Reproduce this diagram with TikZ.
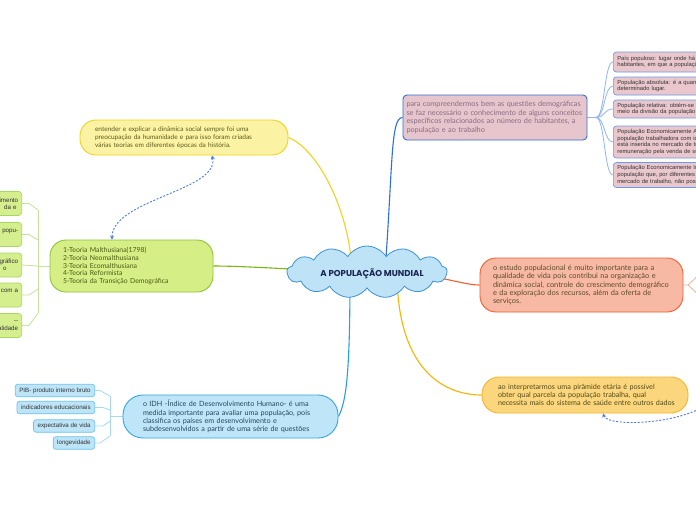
\documentclass[tikz,border=0pt]{standalone}
\usepackage{fontspec}
\setmainfont{Lato}
\newfontfamily\arialf{Liberation Sans}
\newfontfamily\titlef{Poppins}
\usetikzlibrary{shapes.symbols,arrows.meta}
\pgfdeclarelayer{back}
\pgfdeclarelayer{bg}
\pgfsetlayers{back,bg,main}
\definecolor{purpF}{HTML}{E7C5CC}\definecolor{purpB}{HTML}{2F6FD8}\definecolor{purpT}{HTML}{8A6C84}
\definecolor{pinkF}{HTML}{E9C7CD}\definecolor{pinkB}{HTML}{6D9BE6}\definecolor{pinkL}{HTML}{8FB5F0}
\definecolor{yF}{HTML}{FBF3A3}\definecolor{yB}{HTML}{EFD31C}\definecolor{yT}{HTML}{5B5A1E}
\definecolor{gF}{HTML}{D6EE86}\definecolor{gB}{HTML}{8DC43C}\definecolor{gT}{HTML}{4C5C12}\definecolor{gLine}{HTML}{7CB612}
\definecolor{glF}{HTML}{D5EE8E}\definecolor{glB}{HTML}{A9D766}\definecolor{glLine}{HTML}{C4E29A}
\definecolor{rF}{HTML}{F8B9A4}\definecolor{rB}{HTML}{F0602E}\definecolor{rT}{HTML}{5B4A2A}\definecolor{rLight}{HTML}{F6B09A}
\definecolor{oF}{HTML}{FCD67C}\definecolor{oB}{HTML}{F5B52A}\definecolor{oT}{HTML}{4F4A1C}\definecolor{oLine}{HTML}{F5B400}
\definecolor{bF}{HTML}{BEE5F8}\definecolor{bB}{HTML}{34A5DF}\definecolor{bT}{HTML}{25475F}\definecolor{bLine}{HTML}{2A9FE0}
\definecolor{blF}{HTML}{BDE4F7}\definecolor{blB}{HTML}{6BC3EC}\definecolor{blLine}{HTML}{A7D8F2}
\definecolor{cF}{HTML}{BEE2F6}\definecolor{cB}{HTML}{3C92D4}\definecolor{navy}{HTML}{1B2552}
\definecolor{dashC}{HTML}{4A7CE0}
\begin{document}
\begin{tikzpicture}[x=1pt,y=-1pt,
  mainbox/.style={draw, line width=0.9pt, align=left, inner ysep=2pt},
  pinkbox/.style={draw=pinkB, fill=pinkF, line width=0.7pt, rounded corners=3pt, anchor=west, align=left,
     text width=170pt, inner xsep=4pt, inner ysep=1pt, text=black!80, font=\arialf\fontsize{5.8}{6.6}\selectfont},
  gleft/.style={draw=glB, fill=glF, line width=0.7pt, rounded corners=3pt, anchor=east, align=right,
     text width=100pt, inner xsep=3.5pt, minimum height=24pt, text=black!80, font=\arialf\fontsize{6.2}{7.4}\selectfont},
  bleft/.style={draw=blB, fill=blF, line width=0.7pt, rounded corners=2.5pt, anchor=east,
     inner xsep=4pt, inner ysep=0pt, minimum height=12.5pt, text=black!80, font=\arialf\fontsize{6.2}{7}\selectfont},
  conn/.style={line width=1.1pt},
  thin/.style={line width=0.8pt},
  dashy/.style={draw=dashC, line width=0.9pt, dash pattern=on 2pt off 1.6pt}
]
\useasboundingbox (0,0) rectangle (696,520);
\clip (0,0) rectangle (696,520);
\begin{pgfonlayer}{back}
\fill[white] (0,0) rectangle (696,520);
\end{pgfonlayer}

% central cloud
\node[cloud, draw=cB, fill=cF, line width=0.8pt, cloud puffs=13, cloud puff arc=115, aspect=3.2,
      cloud ignores aspect, minimum width=160pt, minimum height=52pt, inner sep=0pt] (cl) at (367,272) {};
\node[font=\titlef\bfseries\fontsize{8.6}{10}\selectfont, text=navy] (title) at (372,274) {A POPULAÇÃO MUNDIAL};

% main topics
\node[mainbox, draw=purpB, fill=purpF, text=purpT, rounded corners=4pt, text width=177pt, inner xsep=3.5pt, minimum height=45pt,
      font=\fontsize{7.3}{8.5}\selectfont] (purp) at (495,117.5)
 {para compreendermos bem as questões demográficas\\se faz necessário o conhecimento de alguns conceitos\\específicos relacionados ao número de habitantes, a\\população e ao trabalho};

\node[mainbox, draw=yB, fill=yF, text=yT, rounded corners=16pt, text width=178pt, inner xsep=15pt, minimum height=35pt,
      font=\fontsize{6.5}{7.7}\selectfont] (ytop) at (184,137.5)
 {entender e explicar a dinâmica social sempre foi uma\\preocupação da humanidade e para isso foram criadas\\várias teorias em diferentes épocas da história.};

\node[mainbox, draw=gB, fill=gF, text=gT, rounded corners=16pt, text width=137pt, inner xsep=13pt, minimum height=52pt,
      font=\fontsize{6.9}{7.7}\selectfont] (green) at (131.5,266)
 {1-Teoria Malthusiana(1798)\\2-Teoria Neomalthusiana\\3-Teoria Ecomalthusiana\\4-Teoria Reformista\\5-Teoria da Transição Demográfica};

\node[mainbox, draw=rB, fill=rF, text=rT, rounded corners=16pt, text width=177pt, inner xsep=13pt, minimum height=54pt,
      font=\fontsize{7.4}{8.3}\selectfont] (red) at (581.5,285)
 {o estudo populacional é muito importante para a\\qualidade de vida pois contribui na organização e\\dinâmica social, controle do crescimento demográfico\\e da exploração dos recursos, além da oferta de\\serviços.};

\node[mainbox, draw=oB, fill=oF, text=oT, rounded corners=17pt, text width=174pt, inner xsep=16pt, minimum height=36pt,
      font=\fontsize{7.2}{8.3}\selectfont] (ybot) at (585,395)
 {\mbox{ao interpretarmos uma pirâmide etária é possível}\\\mbox{obter qual parcela da população trabalha, qual}\\\mbox{necessita mais do sistema de saúde entre outros dados}};

\node[mainbox, draw=bB, fill=bF, text=bT, rounded corners=20pt, text width=175pt, inner xsep=20pt, minimum height=43pt,
      font=\fontsize{7.2}{8.4}\selectfont] (blue) at (230.5,416.5)
 {o IDH -Índice de Desenvolvimento Humano- é uma\\medida importante para avaliar uma população, pois\\classifica os países em desenvolvimento e\\subdesenvolvidos a partir de uma série de questões};

% pink sub-boxes
\node[pinkbox, minimum height=20pt] (pb1) at (613,62) {País populoso: lugar onde há muitos\\habitantes, em que a população é numerosa};
\node[pinkbox, minimum height=18pt] (pb2) at (613,86) {População absoluta: é a quantidade total de habitantes\\determinado lugar.};
\node[pinkbox, minimum height=18pt] (pb3) at (613,109) {População relativa: obtém-se por\\meio da divisão da população pela área};
\node[pinkbox, minimum height=32pt] (pb4) at (613,142) {População Economicamente Ativa: é a\\população trabalhadora com idade que\\está inserida no mercado de trabalho e\\remuneração pela venda de sua força};
\node[pinkbox, minimum height=25pt] (pb5) at (613,175) {População Economicamente Inativa: é a\\população que, por diferentes motivos,\\mercado de trabalho, não possuindo renda};

% green left sub-boxes
\node[gleft] (gl1) at (22,203.5) {alimento\\da e\hspace*{1.5pt}};
\node[gleft] (gl2) at (22,234.5) {e popu-\\\mbox{}};
\node[gleft] (gl3) at (22,265) {demográfico\\o\hspace*{11.5pt}};
\node[gleft] (gl4) at (22,295) {com a\hspace*{1pt}\\\mbox{}};
\node[gleft] (gl5) at (22,325.5) {--\hspace*{14pt}\\natalidade};

% blue left sub-boxes
\node[bleft] (bl1) at (95,390.5) {PIB- produto interno bruto};
\node[bleft] (bl2) at (95,407.5) {indicadores educacionais};
\node[bleft] (bl3) at (95,426) {expectativa de vida};
\node[bleft] (bl4) at (95,443) {longevidade};

\coordinate (hubP) at (596,117.5);
\coordinate (gtr) at (38,266);
\coordinate (btr) at (110,416.5);
\coordinate (rhub) at (688,285);
\coordinate (rA) at (704,270);
\coordinate (rB2) at (704,300);
\coordinate (offR) at (716,396);

\begin{pgfonlayer}{bg}
% connectors from centre
\draw[conn, draw=purpB] ([xshift=18pt]cl.center) .. controls +(8,-110) and +(-12,0) .. (purp.west);
\draw[conn, draw=yB] (ytop.east) .. controls +(30,12) and +(-2,-60) .. ([xshift=-15pt]cl.center);
\draw[conn, draw=gLine] (green.east) .. controls +(40,0) and +(-40,0) .. (cl.center);
\draw[conn, draw=rB] (cl.center) .. controls +(70,0) and +(-20,0) .. (red.west);
\draw[conn, draw=oLine] ([xshift=30pt]cl.center) .. controls +(0,95) and +(-40,0) .. (ybot.west);
\draw[conn, draw=bLine] ([xshift=-17pt]cl.center) .. controls +(0,100) and +(8,-15) .. (blue.east);
% purple to pink
\draw[thin, draw=pinkL] (purp.east) -- (hubP);
\foreach \b in {pb1,pb2,pb3,pb4,pb5}
  \draw[thin, draw=pinkL] (hubP) .. controls +(9,0) and +(-9,0) .. (\b.west);
% red right
\draw[thin, draw=rLight] (red.east) -- (rhub) -- (rA);
\draw[thin, draw=rLight] (rhub) -- (rB2);
% green left tree
\draw[thin, draw=glLine] (green.west) -- (gtr);
\draw[thin, draw=glLine] (38,210) -- (38,313);
\draw[thin, draw=glLine] (gl1.east) -- ++(7,0) -- (38,210);
\draw[thin, draw=glLine] (gl2.east) -- ++(7,0) -- (38,240);
\draw[thin, draw=glLine] (gl3.east) -- (gtr);
\draw[thin, draw=glLine] (gl4.east) -- ++(7,0) -- (38,289);
\draw[thin, draw=glLine] (gl5.east) -- ++(7,0) -- (38,313);
% blue left tree
\draw[thin, draw=blLine] (blue.west) -- (btr);
\draw[thin, draw=blLine] (110,396) -- (110,436);
\draw[thin, draw=blLine] (bl1.east) -- ++(5,0) -- (110,396);
\draw[thin, draw=blLine] (bl2.east) -- ++(8,0) -- (110,410);
\draw[thin, draw=blLine] (bl3.east) -- ++(8,0) -- (110,421);
\draw[thin, draw=blLine] (bl4.east) -- ++(5,0) -- (110,436);
\end{pgfonlayer}

% dashed relations
\draw[dashy, {Stealth[length=4pt,width=4pt]}-{Stealth[length=4pt,width=4pt]}]
  ([xshift=28pt]ytop.south) .. controls +(8,35) and +(0,-40) .. ([xshift=-19.5pt]green.north);
\draw[dashy, -{Stealth[length=4pt,width=4pt]}]
  (offR) .. controls +(-20,28) and +(5,15) .. ([xshift=18pt]ybot.south);
\end{tikzpicture}
\end{document}
